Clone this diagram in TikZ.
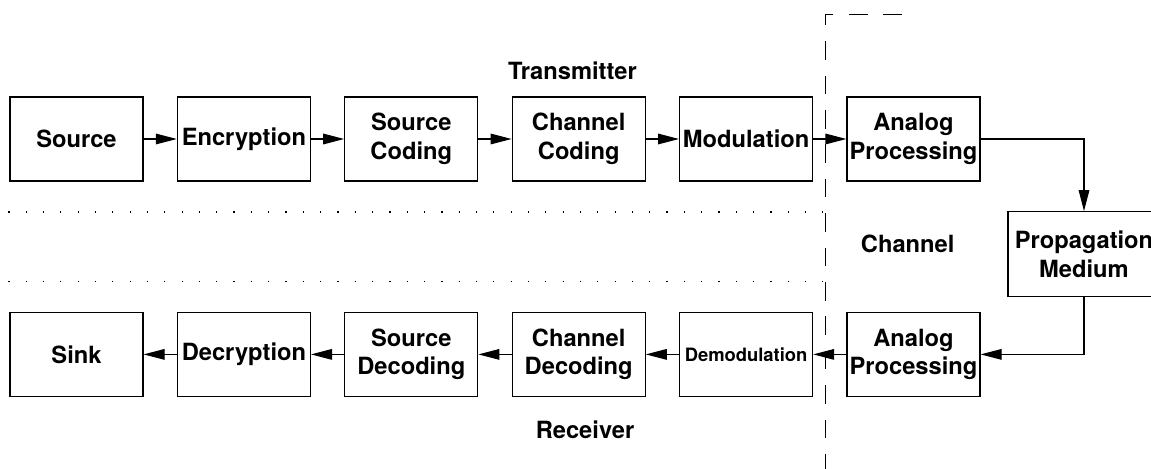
\documentclass[tikz,border=0pt]{standalone}
\usepackage{fontspec}
\setmainfont{TeX Gyre Heros}
\usetikzlibrary{arrows.meta,positioning}

\begin{document}
\begin{tikzpicture}[
  node distance=16.6pt, >={Triangle[length=10.5pt,width=5.3pt]}, line width=0.6pt,
  blk/.style={draw, align=center, inner sep=1pt, minimum width=66.5pt, minimum height=42pt, font=\fontsize{11.85}{14.3}\selectfont\bfseries},
  lbl/.style={font=\fontsize{11.85}{14.3}\selectfont\bfseries},
  sep/.style={line width=0.6pt, dash pattern=on 0.6pt off 8.06pt},
  bound/.style={dash pattern=on 9.35pt off 7.85pt},
]
\useasboundingbox (0,0) rectangle (575.5pt,-234.5pt);
% transmitter
\node[blk] (src) at (38.25pt,-69.5pt) {Source};
\node[blk, right=of src] (enc) {Encryption};
\node[blk, right=of enc] (scod) {Source\\Coding};
\node[blk, right=of scod] (ccod) {Channel\\Coding};
\node[blk, right=of ccod] (mod) {Modulation};
\node[blk, right=of mod] (atx) {Analog\\Processing};
% channel
\node[blk, minimum width=76pt, minimum height=42.5pt] (prop) at (542pt,-127.1pt) {Propagation\\Medium};
% receiver
\node[blk] (sink) at (38.25pt,-177.2pt) {Sink};
\node[blk, right=of sink] (dec) {Decryption};
\node[blk, right=of dec] (sdec) {Source\\Decoding};
\node[blk, right=of sdec] (cdec) {Channel\\Decoding};
\node[blk, right=of cdec, font=\fontsize{9.2}{11}\selectfont\bfseries] (demod) {Demodulation};
\node[blk, right=of demod] (arx) {Analog\\Processing};
% section labels
\node[lbl] (tx) at (286.2pt,-35.35pt) {Transmitter};
\node[lbl] (rx) at (292.5pt,-214.65pt) {Receiver};
\node[lbl] (ch) at (453.85pt,-122pt) {Channel};
% separators
\draw[sep] (4.15pt,-106pt) -- (411.6pt,-106pt);
\draw[sep] (4.15pt,-140.6pt) -- (411.6pt,-140.6pt);
\draw[bound] (451pt,-7.35pt) -- (412.65pt,-7.35pt) -- (412.65pt,-234.5pt);
% signal flow
\draw[->] (src) -- (enc);
\draw[->] (enc) -- (scod);
\draw[->] (scod) -- (ccod);
\draw[->] (ccod) -- (mod);
\draw[->] (mod) -- (atx);
\draw[->] (atx.east) -| (prop.north);
\draw[->] (prop.south) |- (arx.east);
\draw[->] (arx) -- (demod);
\draw[->] (demod) -- (cdec);
\draw[->] (cdec) -- (sdec);
\draw[->] (sdec) -- (dec);
\draw[->] (dec) -- (sink);
\end{tikzpicture}
\end{document}
